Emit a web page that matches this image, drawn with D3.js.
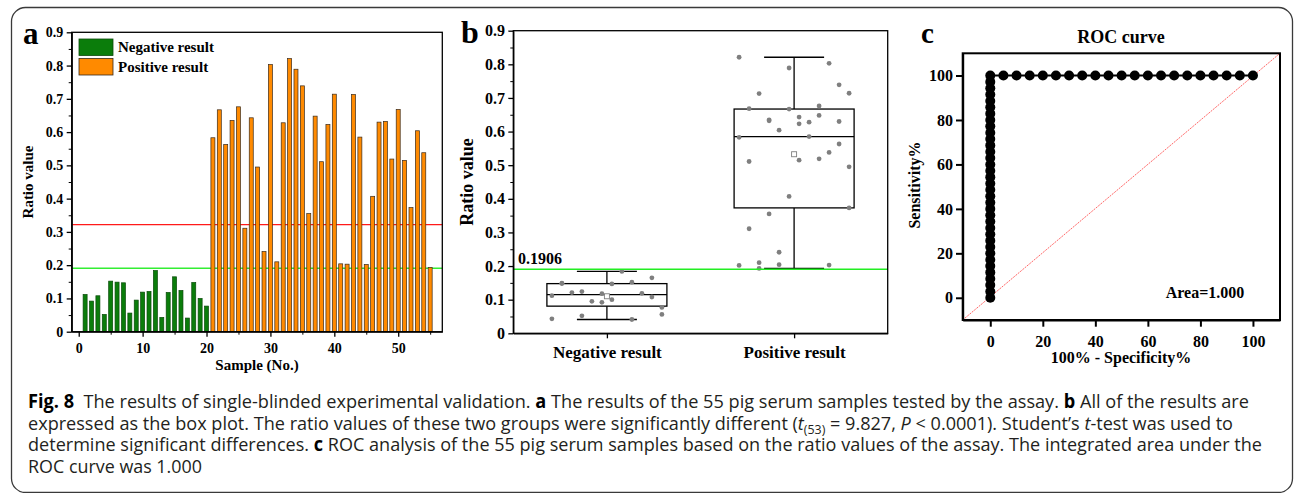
<!DOCTYPE html>
<html>
<head>
<meta charset="utf-8">
<script src="https://cdn.jsdelivr.net/npm/d3@7/dist/d3.min.js"></script>
<style>
  body { margin: 0; background: #fff; }
  svg { display: block; }
</style>
</head>
<body>
<svg id="fig" width="1295" height="493"></svg>
<script>
// ratio values (samples 1-20 negative, 21-55 positive)
const negativeValues = [0.112, 0.092, 0.108, 0.052, 0.152, 0.149, 0.147, 0.056, 0.095, 0.119,
                        0.121, 0.184, 0.043, 0.118, 0.165, 0.124, 0.041, 0.148, 0.100, 0.077];
const positiveValues = [0.583, 0.667, 0.563, 0.635, 0.676, 0.311, 0.643, 0.495, 0.241, 0.803,
                        0.210, 0.628, 0.821, 0.789, 0.739, 0.355, 0.648, 0.511, 0.623, 0.714,
                        0.204, 0.203, 0.713, 0.585, 0.202, 0.407, 0.630, 0.632, 0.519, 0.668,
                        0.515, 0.373, 0.604, 0.538, 0.193];
const groups = ["Negative result", "Positive result"];
const cutoffRed = 0.322;
const cutoffGreen = 0.1906;
const ratioTicks = [0, 0.1, 0.2, 0.3, 0.4, 0.5, 0.6, 0.7, 0.8, 0.9];
const ratioMinor = [0.05, 0.15, 0.25, 0.35, 0.45, 0.55, 0.65, 0.75, 0.85];
const sampleTicks = [0, 10, 20, 30, 40, 50];
const sampleMinor = [5, 15, 25, 35, 45, 55];
const rocTicks = [0, 20, 40, 60, 80, 100];

const SERIF = '"Liberation Serif", "Times New Roman", serif';
const svg = d3.select("#fig");
svg.append("rect").attr("width", 1295).attr("height", 493).attr("fill", "#fff");

// outer rounded border
svg.append("rect")
  .attr("x", 11.5).attr("y", 7.5).attr("width", 1281).attr("height", 485)
  .attr("rx", 14)
  .attr("fill", "none").attr("stroke", "#3a3a3a").attr("stroke-width", 1.3);

const fmtRatio = d => d === 0 ? "0" : d3.format(".1f")(d);

function serif(sel, size) {
  return sel.style("font-family", SERIF).style("font-weight", "bold")
    .style("font-size", size + "px").attr("fill", "#000");
}

function styleAxis(g, size, width) {
  g.attr("font-family", null).attr("font-size", null);
  g.selectAll("path.domain").attr("stroke", "#000").attr("stroke-width", width);
  g.selectAll(".tick line").attr("stroke", "#000").attr("stroke-width", width);
  serif(g.selectAll(".tick text"), size);
}

function minorAxis(g, axis) {
  g.call(axis.tickFormat("").tickSizeOuter(0));
  g.select("path.domain").remove();
  g.selectAll(".tick line").attr("stroke", "#000").attr("stroke-width", 1);
}

function frame(box, width) {
  svg.append("rect")
    .attr("x", box.left).attr("y", box.top)
    .attr("width", box.right - box.left).attr("height", box.bottom - box.top)
    .attr("fill", "none").attr("stroke", "#000").attr("stroke-width", width);
}

function label(x, y, text, size, rotate) {
  const t = serif(svg.append("text"), size)
    .attr("text-anchor", "middle")
    .text(text);
  if (rotate) t.attr("transform", `translate(${x},${y}) rotate(-90)`);
  else t.attr("x", x).attr("y", y);
  return t;
}

// ---------- panel a : bars ----------
const A = {left: 71.7, right: 442.3, top: 32.3, bottom: 331.7};
const xA = d3.scaleLinear().domain([-1.1, 56.9]).range([A.left, A.right]);
const yA = d3.scaleLinear().domain([0, 0.9]).range([A.bottom, A.top]);

const samples = negativeValues.map((v, i) => ({n: i + 1, v, neg: true}))
  .concat(positiveValues.map((v, i) => ({n: negativeValues.length + i + 1, v, neg: false})));

svg.append("g").selectAll("line")
  .data([{v: cutoffRed, c: "#ff1a1a"}, {v: cutoffGreen, c: "#33ee33"}])
  .join("line")
  .attr("x1", A.left).attr("x2", A.right)
  .attr("y1", d => yA(d.v)).attr("y2", d => yA(d.v))
  .attr("stroke", d => d.c).attr("stroke-width", 1.4);

svg.append("g").selectAll("rect")
  .data(samples)
  .join("rect")
  .attr("x", d => xA(d.n) - 2)
  .attr("width", 4)
  .attr("y", d => yA(d.v))
  .attr("height", d => yA(0) - yA(d.v))
  .attr("fill", d => d.neg ? "#0b7d0b" : "#ff8a00")
  .attr("stroke", d => d.neg ? "#0a4a0a" : "#3a2a1a")
  .attr("stroke-width", 0.7);

frame(A, 1.3);

const axAy = svg.append("g").attr("transform", `translate(${A.left},0)`)
  .call(d3.axisLeft(yA).tickValues(ratioTicks).tickFormat(fmtRatio).tickSize(5).tickSizeOuter(0).tickPadding(3.5));
styleAxis(axAy, 14, 1.3);
minorAxis(svg.append("g").attr("transform", `translate(${A.left},0)`), d3.axisLeft(yA).tickValues(ratioMinor).tickSize(3));

const axAx = svg.append("g").attr("transform", `translate(0,${A.bottom})`)
  .call(d3.axisBottom(xA).tickValues(sampleTicks).tickSize(5).tickSizeOuter(0).tickPadding(6));
styleAxis(axAx, 14, 1.3);
minorAxis(svg.append("g").attr("transform", `translate(0,${A.bottom})`), d3.axisBottom(xA).tickValues(sampleMinor).tickSize(3));

label(33, 182, "Ratio value", 15, true);
label(257, 370, "Sample (No.)", 15);
serif(svg.append("text"), 31).attr("x", 23).attr("y", 44).text("a");

// legend
const legend = svg.append("g");
legend.selectAll("rect")
  .data([{c: "#0b7d0b", s: "#0a4a0a"}, {c: "#ff8a00", s: "#3a2a1a"}])
  .join("rect")
  .attr("x", 79).attr("y", (d, i) => 39 + i * 19.5)
  .attr("width", 34).attr("height", 16.5)
  .attr("fill", d => d.c).attr("stroke", d => d.s).attr("stroke-width", 0.8);
serif(legend.selectAll("text").data(groups).join("text"), 15)
  .attr("x", 118).attr("y", (d, i) => 52 + i * 20)
  .text(d => d);

// ---------- panel b : box plot ----------
const B = {left: 513.3, right: 887.7, top: 30.7, bottom: 333.3};
const xB = d3.scalePoint().domain(groups).range([B.left, B.right]).padding(0.5);
const yB = d3.scaleLinear().domain([0, 0.9]).range([B.bottom, B.top]);
const boxW = 120;

// quartiles with the (n+1)p rule, as the source software does
function quart(sorted, p) {
  const pos = (sorted.length + 1) * p - 1;
  const lo = Math.max(0, Math.floor(pos)), hi = Math.min(sorted.length - 1, lo + 1);
  return sorted[lo] + (pos - lo) * (sorted[hi] - sorted[lo]);
}

const boxes = [negativeValues, positiveValues].map((vals, gi) => {
  const s = vals.slice().sort(d3.ascending);
  return {
    g: groups[gi], vals,
    q1: quart(s, 0.25), med: quart(s, 0.5), q3: quart(s, 0.75),
    min: s[0], max: s[s.length - 1], mean: d3.mean(vals)
  };
});

const gb = svg.append("g");
boxes.forEach(b => {
  const cx = xB(b.g);
  gb.append("line").attr("x1", cx).attr("x2", cx).attr("y1", yB(b.min)).attr("y2", yB(b.q1))
    .attr("stroke", "#000").attr("stroke-width", 1.3);
  gb.append("line").attr("x1", cx).attr("x2", cx).attr("y1", yB(b.q3)).attr("y2", yB(b.max))
    .attr("stroke", "#000").attr("stroke-width", 1.3);
  [b.min, b.max].forEach(v => gb.append("line")
    .attr("x1", cx - boxW / 4).attr("x2", cx + boxW / 4).attr("y1", yB(v)).attr("y2", yB(v))
    .attr("stroke", "#000").attr("stroke-width", 1.3));
  gb.append("rect").attr("x", cx - boxW / 2).attr("width", boxW)
    .attr("y", yB(b.q3)).attr("height", yB(b.q1) - yB(b.q3))
    .attr("fill", "none").attr("stroke", "#000").attr("stroke-width", 1.3);
  gb.append("line").attr("x1", cx - boxW / 2).attr("x2", cx + boxW / 2)
    .attr("y1", yB(b.med)).attr("y2", yB(b.med))
    .attr("stroke", "#000").attr("stroke-width", 1.3);
  // jittered raw points (fixed pattern, 12 columns 10 px apart)
  gb.selectAll(null)
    .data(b.vals)
    .join("circle")
    .attr("cx", (d, i) => cx + (((i * 5) % 12) - 5.5) * 10)
    .attr("cy", d => yB(d))
    .attr("r", 2.4)
    .attr("fill", "#7f7f7f");
  gb.append("rect").attr("x", cx - 2.5).attr("y", yB(b.mean) - 2.5)
    .attr("width", 5).attr("height", 5)
    .attr("fill", "#fff").attr("stroke", "#7f7f7f").attr("stroke-width", 0.9);
});

svg.append("line")
  .attr("x1", B.left).attr("x2", B.right)
  .attr("y1", yB(cutoffGreen)).attr("y2", yB(cutoffGreen))
  .attr("stroke", "#22ee22").attr("stroke-width", 1.4);
serif(svg.append("text"), 16)
  .attr("x", 518).attr("y", 264).text(d3.format(".4f")(cutoffGreen));

frame(B, 1.3);

const axBy = svg.append("g").attr("transform", `translate(${B.left},0)`)
  .call(d3.axisLeft(yB).tickValues(ratioTicks).tickFormat(fmtRatio).tickSize(5).tickSizeOuter(0).tickPadding(3.3));
styleAxis(axBy, 16, 1.3);
minorAxis(svg.append("g").attr("transform", `translate(${B.left},0)`), d3.axisLeft(yB).tickValues(ratioMinor).tickSize(3));

const axBx = svg.append("g").attr("transform", `translate(0,${B.bottom})`)
  .call(d3.axisBottom(xB).tickSize(5).tickSizeOuter(0).tickPadding(8));
styleAxis(axBx, 17, 1.3);

label(473, 182, "Ratio value", 18, true);
serif(svg.append("text"), 32).attr("x", 461).attr("y", 43).text("b");

// ---------- panel c : ROC ----------
const C = {left: 962.7, right: 1280, top: 53.3, bottom: 320};
const xC = d3.scaleLinear().domain([-10.5, 110.3]).range([C.left, C.right]);
const yC = d3.scaleLinear().domain([-10, 110]).range([C.bottom, C.top]);

// ROC points: positive = ratio above the cutoff, one cutoff between each pair of sample values
const allValues = negativeValues.concat(positiveValues).sort(d3.ascending);
const cutoffs = [allValues[0] - 0.01]
  .concat(d3.pairs(allValues).map(([a, b]) => (a + b) / 2))
  .concat([allValues[allValues.length - 1] + 0.01]);
const rocPoints = cutoffs.map(c => ({
  fpr: 100 * negativeValues.filter(v => v > c).length / negativeValues.length,
  tpr: 100 * positiveValues.filter(v => v > c).length / positiveValues.length
}));

svg.append("line")
  .attr("x1", xC(-10.5)).attr("y1", yC(-10))
  .attr("x2", xC(110.3)).attr("y2", yC(110))
  .attr("stroke", "#ff5555").attr("stroke-width", 0.9).attr("stroke-dasharray", "2,1");

svg.append("path")
  .datum(rocPoints.slice().sort((a, b) => a.fpr - b.fpr || a.tpr - b.tpr))
  .attr("d", d3.line().x(d => xC(d.fpr)).y(d => yC(d.tpr)))
  .attr("fill", "none").attr("stroke", "#000").attr("stroke-width", 2);

svg.append("g").selectAll("circle")
  .data(rocPoints)
  .join("circle")
  .attr("cx", d => xC(d.fpr))
  .attr("cy", d => yC(d.tpr))
  .attr("r", 5)
  .attr("fill", "#000");

frame(C, 2);

const axCy = svg.append("g").attr("transform", `translate(${C.left},0)`)
  .call(d3.axisLeft(yC).tickValues(rocTicks).tickSize(6.7).tickSizeOuter(0).tickPadding(3));
styleAxis(axCy, 16, 2);
const axCx = svg.append("g").attr("transform", `translate(0,${C.bottom})`)
  .call(d3.axisBottom(xC).tickValues(rocTicks).tickSize(6.7).tickSizeOuter(0).tickPadding(9));
styleAxis(axCx, 16, 2);

label(1121, 43, "ROC curve", 18);
label(920, 185, "Sensitivity%", 16, true);
label(1121, 363, "100% - Specificity%", 16);
label(1205, 298, "Area=1.000", 16);
serif(svg.append("text"), 29).attr("x", 921).attr("y", 43).text("c");

// ---------- caption ----------
const captionLines = [
  {y: 407.5, w: 1221, parts: [["Fig. 8", "b"], ["  The results of single-blinded experimental validation. "], ["a", "b"],
    [" The results of the 55 pig serum samples tested by the assay. "], ["b", "b"], [" All of the results are"]]},
  {y: 429.5, w: 1205, parts: [["expressed as the box plot. The ratio values of these two groups were significantly different ("],
    ["t", "i"], ["(53)", "sub"], [" = 9.827, ", "up"], ["P", "i"], [" < 0.0001). Student’s "], ["t", "i"], ["-test was used to"]]},
  {y: 451, w: 1234, parts: [["determine significant differences. "], ["c", "b"],
    [" ROC analysis of the 55 pig serum samples based on the ratio values of the assay. The integrated area under the"]]},
  {y: 473, w: 174, parts: [["ROC curve was 1.000"]]}
];

captionLines.forEach(line => {
  const t = svg.append("text")
    .style("font-family", '"Open Sans", "Noto Sans", sans-serif')
    .style("font-size", "19px")
    .attr("fill", "#231f20")
    .attr("x", 28).attr("y", line.y)
    .attr("textLength", line.w).attr("lengthAdjust", "spacingAndGlyphs")
    .style("white-space", "pre");
  line.parts.forEach(([s, kind]) => {
    const ts = t.append("tspan").text(s);
    if (kind === "b") ts.attr("font-weight", "bold").attr("fill", "#000");
    if (kind === "i") ts.attr("font-style", "italic");
    if (kind === "sub") ts.attr("font-size", "13px").attr("dy", 4);
    if (kind === "up") ts.attr("dy", -4);
  });
});
</script>
</body>
</html>
